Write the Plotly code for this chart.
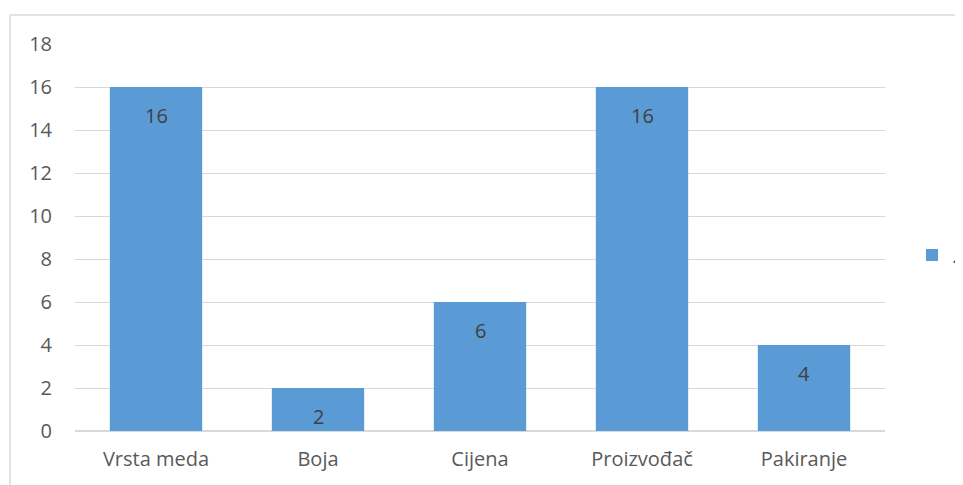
import plotly.graph_objects as go

categories = ["Vrsta meda", "Boja", "Cijena", "Proizvođač", "Pakiranje"]
values = [16, 2, 6, 16, 4]
series_name = "."
y_ticks = [0, 2, 4, 6, 8, 10, 12, 14, 16, 18]

O = 8  # page body offset
W, H = 963 - O, 485 - O
ml = 75 - O
mt = 44 - O
mb = H - (431 - O)
mr = W - (885 - O)
pw = W - ml - mr
ph = H - mt - mb

FONT = "Open Sans, Liberation Sans, sans-serif"

fig = go.Figure()
fig.add_trace(go.Bar(
    x=categories, y=values, name=series_name,
    marker=dict(color="#5b9bd5", line=dict(width=0)),
    showlegend=True,
))

for c, v in zip(categories, values):
    fig.add_annotation(x=c, y=v, text=str(v), showarrow=False, yshift=-28,
                       font=dict(size=20, color="#404040", family=FONT))

# outer chart border (left and top)
bx = (10 - 75) / pw
by_top = (431 - 15) / ph
by_bot = (431 - 490) / ph
bx_right = (970 - 75) / pw
fig.add_shape(type="line", xref="paper", yref="paper", x0=bx, x1=bx, y0=by_bot, y1=by_top,
              line=dict(color="#d9d9d9", width=1.5))
fig.add_shape(type="line", xref="paper", yref="paper", x0=bx, x1=bx_right, y0=by_top, y1=by_top,
              line=dict(color="#d9d9d9", width=1.5))

fig.update_layout(
    width=W, height=H,
    margin=dict(l=ml, r=mr, t=mt, b=mb, autoexpand=False),
    paper_bgcolor="white", plot_bgcolor="white",
    bargap=0.43,
    font=dict(family=FONT, size=20, color="#595959"),
    legend=dict(xref="container", yref="container",
                x=(912 - O) / W, y=1 - (255 - O) / H, xanchor="left", yanchor="middle",
                itemwidth=30, font=dict(size=20, color="#595959"), bgcolor="rgba(0,0,0,0)"),
    xaxis=dict(showgrid=False, showline=False, ticks="", tickfont=dict(size=20),
               ticklabelstandoff=14),
    yaxis=dict(range=[0, 18], tickvals=y_ticks, showgrid=True, gridcolor="#d9d9d9", gridwidth=1,
               zeroline=True, zerolinecolor="#d9d9d9", zerolinewidth=1.5, showline=False, ticks="",
               ticklabelstandoff=22, tickfont=dict(size=20)),
)

fig.write_html("out.html")
